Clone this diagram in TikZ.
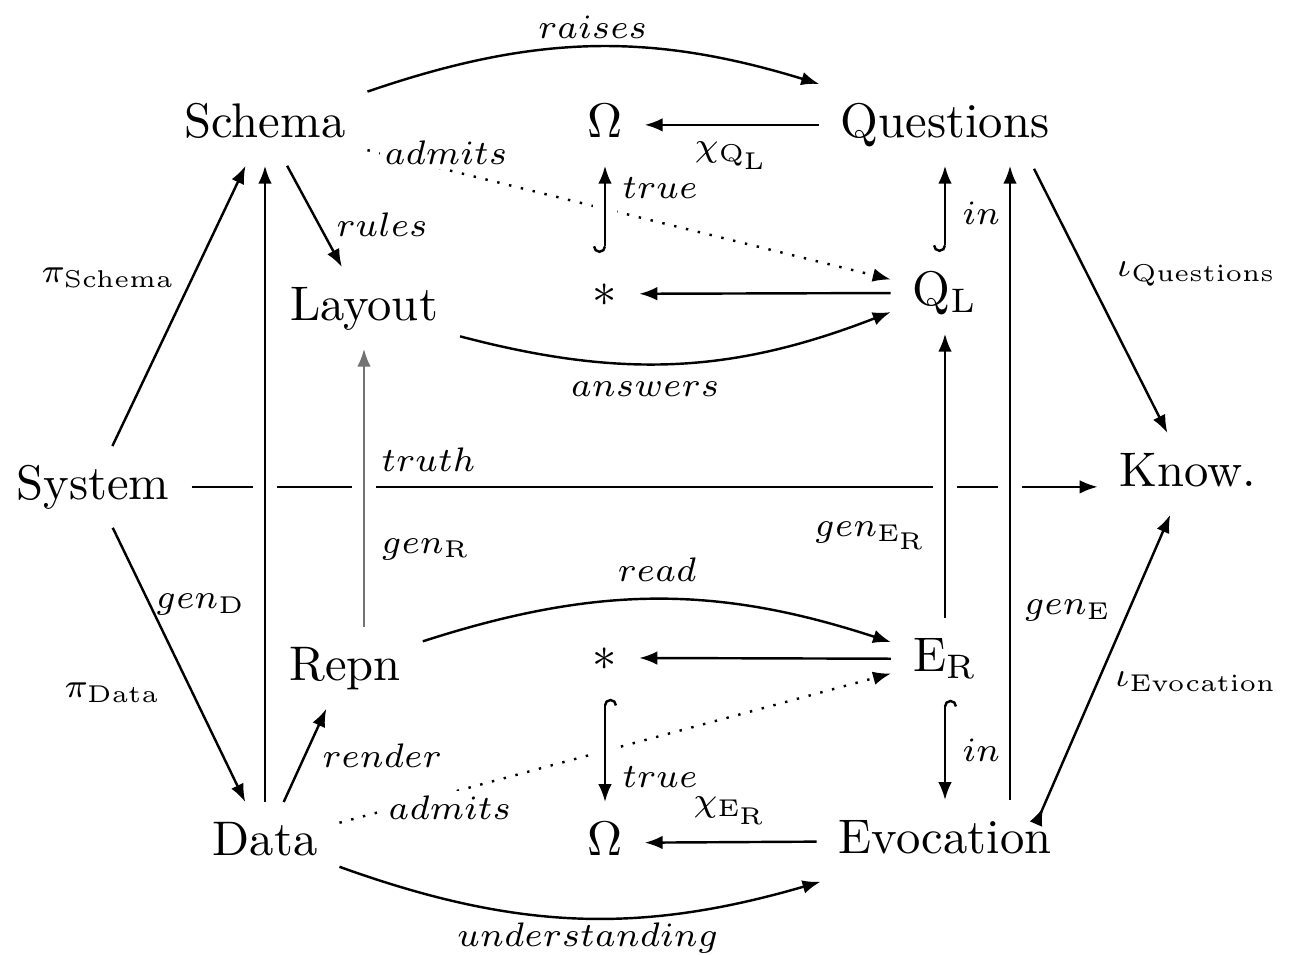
\documentclass[tikz,border=0pt]{standalone}
\usepackage{amsmath}
\usetikzlibrary{arrows.meta, calc}

\begin{document}
\begin{tikzpicture}[x=0.2058pt, y=-0.2058pt, line width=0.5pt]
    % Define styles
    \tikzset{
        obj/.style={inner xsep=1ex, inner ysep=0.85ex, text height=7pt, text depth=2pt, anchor=base},
        lbl/.style={font=\scriptsize, text=black},
        arr/.style={-{Latex[length=3.7pt,width=2.8pt]}},
        hookarr/.style={arrows={Hooks[right]-Latex[length=3.7pt,width=2.8pt]}},
        tailarr/.style={arrows={Latex[reversed,length=3.7pt,width=2.8pt]-Latex[length=3.7pt,width=2.8pt]}},
        over/.style={preaction={draw=white, line width=5pt, -}}
    }
    \useasboundingbox (0,0) rectangle (1299,954);

    % Nodes
    \node[obj] (Schema) at (265,137) {Schema};
    \node[obj] (OmQ) at (605,137) {$\Omega$};
    \node[obj] (Questions) at (945,137) {Questions};
    \node[obj] (Layout) at (364,320) {Layout};
    \node[obj] (starQ) at (605,306) {$*$};
    \node[obj] (QL) at (945,305) {Q$_\mathrm{L}$};
    \node[obj] (System) at (93,499) {System};
    \node[obj] (Know) at (1188,486) {Know.};
    \node[obj] (Repn) at (345,680) {Repn};
    \node[obj] (starE) at (605,670) {$*$};
    \node[obj] (ER) at (945,671) {E$_\mathrm{R}$};
    \node[obj] (Data) at (265,855) {Data};
    \node[obj] (OmE) at (605,855) {$\Omega$};
    \node[obj] (Evocation) at (945,853) {Evocation};

    % Long arrow first, the verticals cross over it
    \draw[arr] (System) -- (System -| Know.west);
    \draw[arr, dotted] (Schema) -- node[lbl, pos=0.15, fill=white, inner sep=1pt, yshift=3.5pt] {$admits$} (QL);
    \draw[arr, dotted] (Data) -- node[lbl, pos=0.2, fill=white, inner sep=1pt, yshift=-3pt] {$admits$} (ER);

    \draw[arr, over] (Data) -- (Schema);
    \draw[arr, over, black!55] (Repn.north -| Layout) -- node[lbl, right, pos=0.28] {$gen_{\mathrm{R}}$} node[lbl, right, pos=0.6] {$truth$} (Layout);
    \draw[arr, over] (ER) -- node[lbl, left, pos=0.29] {$gen_{\mathrm{E}_\mathrm{R}}$} (QL);
    \draw[arr, over] ($(Evocation.north)+(65,0)$) -- ($(Questions.south)+(65,0)$);
    \draw[hookarr, over] (starQ) -- node[lbl, right, pos=0.75] {$true$} (OmQ);
    \draw[hookarr, over] (starE) -- node[lbl, right, pos=0.76] {$true$} (OmE);

    % Top half
    \draw[arr] (System) -- node[lbl, left, pos=0.6] {$\pi_{\mathrm{Schema}}$} (Schema);
    \draw[arr] (Schema) -- node[lbl, right, pos=0.58] {$rules$} (Layout);
    \draw[arr] (Schema) to[bend left=18] node[lbl, above, inner sep=1.5pt] {$raises$} (Questions);
    \draw[arr] (Questions) -- node[lbl, below] {$\chi_{\mathrm{Q}_\mathrm{L}}$} (OmQ);
    \draw[arr] (QL) -- (starQ);
    \draw[hookarr] (QL) -- node[lbl, right, pos=0.45] {$in$} (Questions);
    \draw[arr] (Layout) to[bend right=18] node[lbl, below, pos=0.42] {$answers$} (QL);
    \draw[arr] ($(Questions.south)+(89,3)$) -- node[lbl, right=2.5pt, pos=0.4] {$\iota_{\mathrm{Questions}}$} (Know);

    % Bottom half
    \draw[arr] (System) -- node[lbl, right, pos=0.28, inner sep=1pt] {$gen_{\mathrm{D}}$} node[lbl, left=3pt, pos=0.6] {$\pi_{\mathrm{Data}}$} (Data);
    \draw[arr] (Data) -- node[lbl, right, pos=0.5] {$render$} (Repn);
    \draw[arr] (Repn) to[bend left=18] node[lbl, above] {$read$} (ER);
    \draw[arr] (ER) -- (starE);
    \draw[hookarr] (ER) -- node[lbl, right] {$in$} (Evocation);
    \draw[arr] (Evocation) -- node[lbl, above] {$\chi_{\mathrm{E}_\mathrm{R}}$} (OmE);
    \draw[arr] (Data) to[bend right=18] node[lbl, below, pos=0.52, inner sep=0.8pt] {$understanding$} (Evocation);
    \draw[tailarr] ($(Evocation.north)+(91,24)$) -- node[lbl, left, pos=0.69] {$gen_{\mathrm{E}}$} node[lbl, right, pos=0.46] {$\iota_{\mathrm{Evocation}}$} (Know);
\end{tikzpicture}
\end{document}
